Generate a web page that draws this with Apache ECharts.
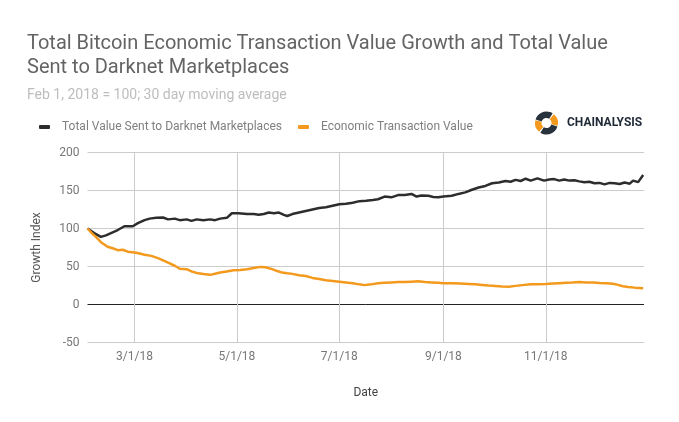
<!DOCTYPE html>
<html>
<head>
<meta charset="utf-8">
<script src="https://cdn.jsdelivr.net/npm/echarts@6/dist/echarts.min.js"></script>
<style>
html, body { margin: 0; padding: 0; background: #fff; }
#chart { width: 679px; height: 422px; }
</style>
</head>
<body>
<div id="chart"></div>
<script>
// days counted from Feb 1, 2018 (day 0)
var darknetDays = [0, 4, 8, 11, 14, 18, 22, 27, 30, 34, 37, 41, 45, 48, 52, 55, 59, 62, 65, 69,
    73, 76, 79, 83, 86, 90, 95, 99, 102, 105, 108, 111, 114, 117, 119, 122, 126, 130, 134, 138,
    142, 146, 150, 154, 158, 162, 166, 170, 173, 177, 181, 185, 189, 193, 196, 199, 203, 206, 209, 212,
    217, 221, 225, 229, 233, 237, 241, 245, 249, 252, 255, 258, 261, 264, 268, 272, 275, 278, 281, 284,
    287, 290, 293, 296, 299, 302, 305, 308, 311, 314, 317, 320, 323, 325, 328, 331];
var darknetVals = [100, 94, 89, 91, 94, 98, 103, 103, 107, 111, 113, 114, 114.5, 112, 113, 111, 112, 110, 112, 111,
    112, 111, 113, 114, 120, 120, 119, 119, 118, 119, 121, 120, 121, 118, 116.5, 119, 121, 123, 125, 127,
    128, 130, 132, 132.5, 134, 136, 136.5, 137.5, 138.5, 142, 141, 144, 144, 145.5, 142, 143.5, 143, 141.5, 141, 142,
    143, 145.5, 147.5, 151, 154, 156, 159.5, 160.5, 162.5, 161.5, 164, 162.5, 165.5, 163, 166, 163, 164.5, 165, 163, 164.5,
    163, 163.5, 162, 161, 161.5, 159.5, 160, 158, 160, 159.5, 158.5, 160.5, 159, 163, 161, 170.5];

var econDays = [0, 3, 5, 8, 10, 12, 15, 18, 21, 24, 28, 31, 34, 38, 42, 45, 48, 52, 55, 59,
    62, 66, 69, 73, 76, 79, 83, 87, 91, 95, 99, 103, 106, 110, 113, 116, 119, 122, 126, 130,
    134, 138, 142, 146, 150, 154, 158, 162, 165, 169, 173, 177, 181, 185, 189, 193, 197, 201, 205, 209,
    212, 217, 222, 227, 231, 235, 239, 243, 247, 251, 255, 259, 264, 268, 273, 277, 281, 285, 289, 293,
    297, 301, 305, 309, 313, 316, 319, 322, 326, 331];
var econVals = [100, 93, 89, 82, 79, 76, 74, 71.5, 72, 69.5, 68.5, 67, 65.5, 64, 61, 58, 55, 51, 47, 46.5,
    43.5, 41, 40, 39, 40.5, 42, 43.5, 45, 45.5, 46.5, 48, 49.5, 49, 46.5, 44, 42, 41, 40.3, 38.5, 37.5,
    35, 33.5, 32, 31, 30, 29, 28, 26.5, 25.5, 26.5, 28, 28.5, 29, 29.5, 29.5, 30, 30.5, 29.5, 29, 28.5,
    28, 28, 27.5, 27, 26.5, 25.8, 25, 24.5, 23.8, 23.5, 24.5, 25.5, 26.5, 26.5, 27, 27.5, 28, 28.5, 28.8, 29.5,
    29, 28.8, 28.2, 28, 27.2, 25.8, 24, 23, 22.2, 21.5];

var tickDays = [28, 89, 150, 212, 273];
var tickLabels = ['3/1/18', '5/1/18', '7/1/18', '9/1/18', '11/1/18'];

function pairs(days, vals) {
    var out = [];
    for (var i = 0; i < days.length; i++) {
        out.push([days[i], vals[i]]);
    }
    return out;
}

var myChart = echarts.init(document.getElementById('chart'));
var font = 'Roboto';
var option = {
    animation: false,
    backgroundColor: '#fff',
    title: {
        left: 22,
        top: 27,
        text: 'Total Bitcoin Economic Transaction Value Growth and Total Value\nSent to Darknet Marketplaces',
        textStyle: { fontFamily: font, fontSize: 20, fontWeight: 'normal', color: '#646464', lineHeight: 24 },
        subtext: 'Feb 1, 2018 = 100; 30 day moving average',
        subtextStyle: { fontFamily: font, fontSize: 14, color: '#bdbdbd' },
        itemGap: 8
    },
    legend: {
        left: 34,
        top: 116,
        icon: 'roundRect',
        itemWidth: 11,
        itemHeight: 4,
        itemGap: 16,
        textStyle: { fontFamily: font, fontSize: 12, color: '#808080', padding: [0, 0, 0, 7] },
        data: ['Total Value Sent to Darknet Marketplaces', 'Economic Transaction Value']
    },
    grid: { left: 87.5, right: 35, top: 152.5, height: 190 },
    xAxis: {
        type: 'value',
        min: 0,
        max: 331.5,
        name: 'Date',
        nameLocation: 'middle',
        nameGap: 44,
        nameTextStyle: { fontFamily: font, fontSize: 12, color: '#444' },
        axisLine: { show: false },
        axisTick: { show: false, customValues: tickDays },
        axisLabel: {
            customValues: tickDays,
            margin: 8,
            fontFamily: font,
            fontSize: 12,
            color: '#777',
            formatter: function(v) {
                var i = tickDays.indexOf(v);
                return i >= 0 ? tickLabels[i] : '';
            }
        },
        splitLine: { show: true, lineStyle: { color: '#ccc', width: 1 } }
    },
    yAxis: {
        type: 'value',
        min: -50,
        max: 200,
        interval: 50,
        name: 'Growth Index',
        nameLocation: 'middle',
        nameGap: 45,
        nameTextStyle: { fontFamily: font, fontSize: 12, color: '#555' },
        axisLine: { show: false },
        axisTick: { show: false },
        axisLabel: { margin: 8, fontFamily: font, fontSize: 12, color: '#777' },
        splitLine: { lineStyle: { color: ['#ccc', '#222', '#ccc', '#ccc', '#ccc', '#ccc'], width: 1 } }
    },
    graphic: [{
        type: 'group',
        left: 535,
        top: 111.5,
        children: [
            { type: 'sector', shape: { cx: 11.5, cy: 11.5, r0: 5, r: 11.5, startAngle: Math.PI * 1.1, endAngle: Math.PI * 1.68 }, style: { fill: '#27323d' } },
            { type: 'sector', shape: { cx: 11.5, cy: 11.5, r0: 5, r: 11.5, startAngle: Math.PI * 1.72, endAngle: Math.PI * 2.08 }, style: { fill: '#f39a1e' } },
            { type: 'sector', shape: { cx: 11.5, cy: 11.5, r0: 5, r: 11.5, startAngle: Math.PI * 0.1, endAngle: Math.PI * 0.68 }, style: { fill: '#27323d' } },
            { type: 'sector', shape: { cx: 11.5, cy: 11.5, r0: 5, r: 11.5, startAngle: Math.PI * 0.72, endAngle: Math.PI * 1.08 }, style: { fill: '#f39a1e' } }
        ]
    }, {
        type: 'text',
        left: 567,
        top: 117,
        style: { text: 'CHAINALYSIS', fontFamily: font, fontSize: 12, fontWeight: 'bold', fill: '#1f2a36' }
    }],
    series: [{
        name: 'Total Value Sent to Darknet Marketplaces',
        type: 'line',
        showSymbol: false,
        color: '#2d2d2d',
        lineStyle: { width: 2.5, color: '#2d2d2d' },
        data: pairs(darknetDays, darknetVals)
    }, {
        name: 'Economic Transaction Value',
        type: 'line',
        showSymbol: false,
        color: '#f39a1e',
        lineStyle: { width: 2.5, color: '#f39a1e' },
        data: pairs(econDays, econVals)
    }]
};
myChart.setOption(option);
</script>
</body>
</html>
